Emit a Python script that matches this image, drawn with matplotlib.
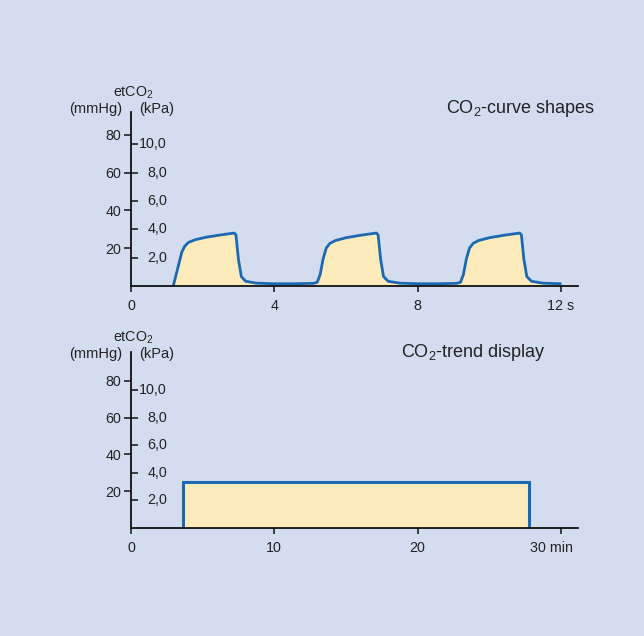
import matplotlib
matplotlib.use("Agg")
import matplotlib.pyplot as plt
import matplotlib.transforms as mtransforms

plt.rcParams['font.family'] = ['Liberation Sans', 'DejaVu Sans']
plt.rcParams['mathtext.fontset'] = 'custom'
plt.rcParams['mathtext.rm'] = 'Liberation Sans'
plt.rcParams['mathtext.it'] = 'Liberation Sans:italic'
plt.rcParams['mathtext.bf'] = 'Liberation Sans:bold'

# ---- data ----
# capnogram (seconds, mmHg)
curve_t = [1.18, 1.30, 1.42, 1.50, 1.60, 1.80, 2.10, 2.50, 2.88, 2.93, 3.00, 3.08, 3.20, 3.50,
           4.00, 4.60, 5.10, 5.20, 5.28, 5.36, 5.45, 5.55, 5.70, 6.00, 6.40, 6.85, 6.90,
           6.97, 7.05, 7.18, 7.50, 8.00, 8.60, 9.10, 9.20, 9.28, 9.36, 9.45, 9.55, 9.70,
           10.00, 10.40, 10.85, 10.90, 10.97, 11.05, 11.18, 11.50, 11.98]
curve_v = [0, 9, 18, 21, 23, 24.5, 25.8, 27, 28, 27, 14, 5, 2.5, 1.5,
           1.2, 1.2, 1.4, 2, 6, 14, 20, 22.5, 24, 25.5, 26.8, 28, 27,
           14, 5, 2.5, 1.5, 1.2, 1.2, 1.4, 2, 6, 14, 20, 22.5, 24,
           25.5, 26.8, 28, 27, 14, 5, 2.5, 1.5, 1.2]
# trend (minutes, mmHg)
trend_t = [3.65, 3.65, 27.8, 27.8]
trend_v = [0, 25, 25, 0]

mmhg_ticks = [20, 40, 60, 80]
kpa_ticks = [2.0, 4.0, 6.0, 8.0, 10.0]
kpa_labels = ['2,0', '4,0', '6,0', '8,0', '10,0']
top_xticks = [0, 4, 8, 12]
top_xlabels = ['0', '4', '8', '12 s']
bot_xticks = [0, 10, 20, 30]
bot_xlabels = ['0', '10', '20', '30 min']

BG = '#d4ddef'
FILL = '#feebbb'
LINE = '#1b69b3'
TXT = '#222222'

W, H = 644, 636
fig = plt.figure(figsize=(W / 100, H / 100), dpi=100)
fig.patch.set_facecolor(BG)


def px(x, y):
    return x / W, 1 - y / H


def make_axes(left, bottom, right, top, xmax, ymax):
    ax = fig.add_axes([left / W, 1 - bottom / H, (right - left) / W, (bottom - top) / H])
    ax.set_facecolor('none')
    ax.set_xlim(0, xmax)
    ax.set_ylim(0, ymax)
    for s in ['top', 'right']:
        ax.spines[s].set_visible(False)
    for s in ['left', 'bottom']:
        ax.spines[s].set_linewidth(1.3)
        ax.spines[s].set_color('#111111')
    ax.yaxis.remove_overlapping_locs = False
    ax.set_yticks(mmhg_ticks)
    ax.set_yticklabels([str(v) for v in mmhg_ticks])
    ax.set_yticks([k * 7.5 for k in kpa_ticks], minor=True)
    ax.tick_params(axis='y', which='major', direction='out', length=5, width=1.1,
                   pad=2, labelsize=10.3, labelcolor=TXT, color='#111111')
    ax.tick_params(axis='y', which='minor', direction='in', length=5, width=1.1,
                   color='#111111')
    trans = mtransforms.offset_copy(ax.get_yaxis_transform(), fig=fig, x=36 * 0.72, y=0,
                                    units='points')
    for k, lab in zip(kpa_ticks, kpa_labels):
        ax.text(0, k * 7.5, lab, transform=trans, ha='right', va='center',
                fontsize=10.3, color=TXT)
    ax.tick_params(axis='x', direction='out', length=4, width=1.1, pad=5,
                   labelsize=10.3, labelcolor=TXT, color='#111111')
    return ax


# top panel
ax1 = make_axes(131, 286, 578, 112, 12.48, 92)
ax1.fill_between(curve_t, curve_v, 0, color=FILL, lw=0)
ax1.plot(curve_t, curve_v, color=LINE, lw=2.0, solid_joinstyle='round')
ax1.set_xticks(top_xticks)
ax1.set_xticklabels(top_xlabels)

# bottom panel
ax2 = make_axes(131, 528, 578, 352, 31.2, 95.7)
ax2.fill_between(trend_t, trend_v, 0, color=FILL, lw=0)
ax2.plot(trend_t, trend_v, color=LINE, lw=2.2, solid_joinstyle='miter')
ax2.set_xticks(bot_xticks)
ax2.set_xticklabels(bot_xlabels)
last = ax2.get_xticklabels()[-1]
last.set_transform(last.get_transform() +
                   mtransforms.ScaledTranslation(-9 / 100, 0, fig.dpi_scale_trans))

# labels
for (ybase_et, ybase_unit) in [(97, 113), (342, 358)]:
    fig.text(*px(133, ybase_et), 'etCO$_2$', ha='center', va='baseline', fontsize=10.3, color=TXT)
    fig.text(*px(96, ybase_unit), '(mmHg)', ha='center', va='baseline', fontsize=10.5, color=TXT)
    fig.text(*px(157, ybase_unit), '(kPa)', ha='center', va='baseline', fontsize=10.5, color=TXT)

fig.text(*px(595, 113), 'CO$_2$-curve shapes', ha='right', va='baseline', fontsize=13, color=TXT)
fig.text(*px(546, 357), 'CO$_2$-trend display', ha='right', va='baseline', fontsize=13, color=TXT)

fig.savefig('out.png', dpi=100, facecolor=BG)
